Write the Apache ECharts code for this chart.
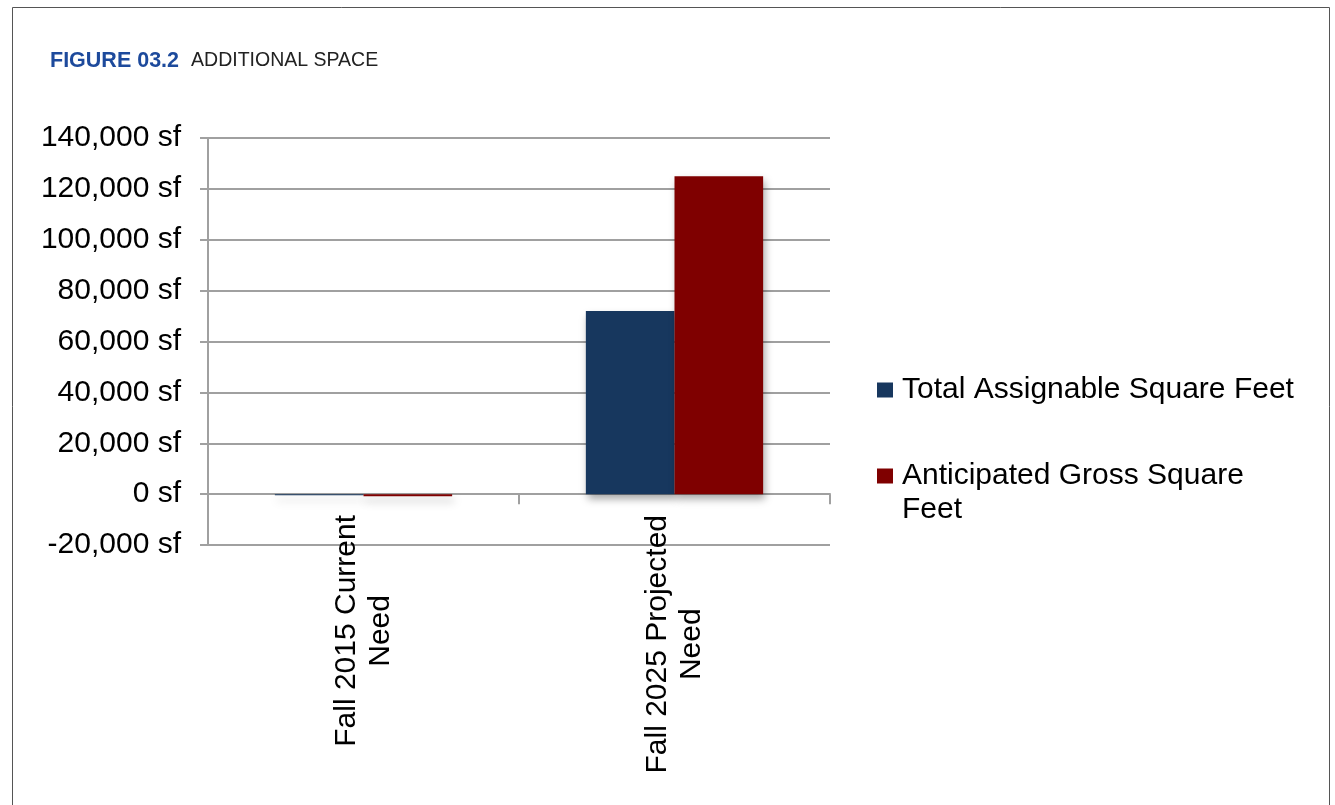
<!DOCTYPE html>
<html>
<head>
<meta charset="utf-8">
<script src="https://cdn.jsdelivr.net/npm/echarts@6/dist/echarts.min.js"></script>
<style>
html,body{margin:0;padding:0;background:#fff;overflow:hidden;}
#chart{width:1335px;height:805px;}
</style>
</head>
<body>
<div id="chart"></div>
<script>
const categories = ['Fall 2015 Current\nNeed', 'Fall 2025 Projected\nNeed'];
const seriesNames = ['Total Assignable Square Feet', 'Anticipated Gross Square Feet'];
const totalAssignable = [-400, 72000];
const anticipatedGross = [-800, 125000];
const yTicks = { min: -20000, max: 140000, interval: 20000 };

const FONT = '"Liberation Sans", Arial, Helvetica, sans-serif';
const chart = echarts.init(document.getElementById('chart'), null, { renderer: 'canvas' });

const fmt = v => v.toLocaleString('en-US') + ' sf';
const barShadow = { shadowBlur: 8, shadowOffsetX: 2, shadowOffsetY: 5, shadowColor: 'rgba(0,0,0,0.35)' };

const option = {
  backgroundColor: '#fff',
  animation: false,
  title: {
    left: 45, top: 45,
    text: '{b|FIGURE 03.2}  {n|ADDITIONAL SPACE}',
    textStyle: {
      fontWeight: 'normal',
      rich: {
        b: { fontFamily: FONT, fontWeight: 'bold', fontSize: 21.5, color: '#1d4a9c' },
        n: { fontFamily: FONT, fontWeight: 'normal', fontSize: 19.5, color: '#222', padding: [0, 0, 0, 2] }
      }
    }
  },
  graphic: [{
    type: 'rect', silent: true,
    shape: { x: 12.5, y: 7.5, width: 1317, height: 830 },
    style: { fill: 'none', stroke: '#555', lineWidth: 1 }
  }],
  legend: [{
    orient: 'vertical', left: 877, top: 375, padding: 0,
    itemWidth: 16, itemHeight: 15,
    icon: 'rect',
    data: [seriesNames[0]],
    formatter: n => '{a|' + n + '}',
    textStyle: { fontFamily: FONT, fontSize: 30, color: '#000',
      rich: { a: { fontFamily: FONT, fontSize: 30, lineHeight: 34, color: '#000', padding: [0, 0, 0, 4] } } }
  }, {
    orient: 'vertical', left: 877, top: 437, padding: 0,
    itemWidth: 16, itemHeight: 15,
    icon: 'rect',
    data: [seriesNames[1]],
    formatter: n => '{s| }\n{a|' + n.replace(' Feet', '}\n{a|Feet') + '}',
    textStyle: { fontFamily: FONT, fontSize: 30, color: '#000',
      rich: {
        s: { fontSize: 10, lineHeight: 34 },
        a: { fontFamily: FONT, fontSize: 30, lineHeight: 34, color: '#000', padding: [0, 0, 0, 4] }
      } }
  }],
  grid: { left: 208, right: 505, top: 138, bottom: 260, containLabel: false, outerBoundsMode: 'none' },
  xAxis: {
    type: 'category',
    data: categories,
    axisLine: { onZero: true, lineStyle: { color: '#a0a0a0', width: 2 } },
    axisTick: { show: true, length: 10, lineStyle: { color: '#a0a0a0', width: 2 } },
    axisLabel: {
      rotate: 90, margin: -30, interval: 0,
      formatter: v => v.split('\n').map(s => '{c|' + s + '}').join('\n'),
      rich: { c: { align: 'center', fontFamily: FONT, fontSize: 30, lineHeight: 34, color: '#000' } },
      fontFamily: FONT, fontSize: 30, lineHeight: 34, color: '#000'
    },
    splitLine: { show: false }
  },
  yAxis: {
    type: 'value',
    min: yTicks.min, max: yTicks.max, interval: yTicks.interval,
    axisLine: { show: true, lineStyle: { color: '#a0a0a0', width: 2 } },
    axisTick: { show: true, length: 8, lineStyle: { color: '#a0a0a0', width: 2 } },
    axisLabel: { formatter: fmt, margin: 27, fontFamily: FONT, fontSize: 30, color: '#000' },
    splitLine: { show: true, lineStyle: { color: '#a0a0a0', width: 2 } }
  },
  series: [{
    name: seriesNames[0], type: 'bar', data: totalAssignable,
    barGap: '0%', barCategoryGap: '43%',
    itemStyle: Object.assign({ color: '#17375e' }, barShadow)
  }, {
    name: seriesNames[1], type: 'bar', data: anticipatedGross,
    barGap: '0%', barCategoryGap: '43%',
    itemStyle: Object.assign({ color: '#7f0000' }, barShadow)
  }]
};
chart.setOption(option);
</script>
</body>
</html>
